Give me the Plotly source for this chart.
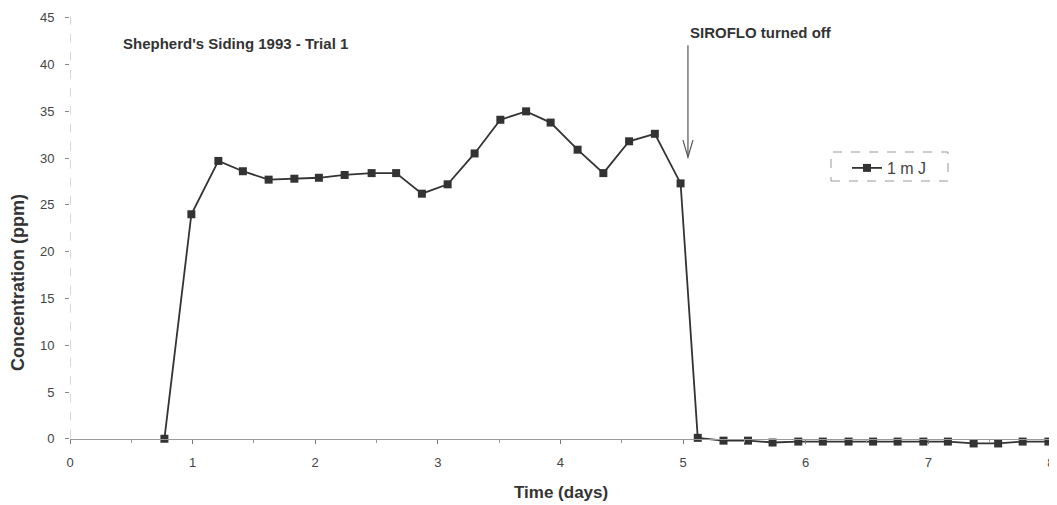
import plotly.graph_objects as go

time_days = [0.77, 0.99, 1.21, 1.41, 1.62, 1.83, 2.03, 2.24, 2.46, 2.66, 2.87, 3.08,
             3.30, 3.51, 3.72, 3.92, 4.14, 4.35, 4.56, 4.77, 4.98, 5.12, 5.33, 5.53,
             5.73, 5.94, 6.14, 6.35, 6.55, 6.75, 6.96, 7.16, 7.37, 7.57, 7.77, 7.98]
conc_ppm = [0.0, 24.0, 29.7, 28.6, 27.7, 27.8, 27.9, 28.2, 28.4, 28.4, 26.2, 27.2,
            30.5, 34.1, 35.0, 33.8, 30.9, 28.4, 31.8, 32.6, 27.3, 0.1, -0.2, -0.2,
            -0.4, -0.3, -0.3, -0.3, -0.3, -0.3, -0.3, -0.3, -0.5, -0.5, -0.3, -0.3]
series_name = "1 m J"
x_ticks = [0, 1, 2, 3, 4, 5, 6, 7, 8]
y_ticks = [0, 5, 10, 15, 20, 25, 30, 35, 40, 45]
y_min, y_max = -1.2, 45.3
off_time = 5.04
off_level = 30.1

ink = "#333333"
font_family = "Liberation Sans, Arial, sans-serif"

fig = go.Figure()
fig.add_trace(go.Scatter(
    x=time_days, y=conc_ppm, mode="lines+markers", name=series_name,
    line=dict(color=ink, width=1.8),
    marker=dict(symbol="square", size=8, color=ink),
    cliponaxis=False,
))

zero_pos = (0 - y_min) / (y_max - y_min)

def px(xp):
    return (xp - 70) / 987

def py(yp):
    return (450 - yp) / 435

# page body has an 8px margin, so the figure is sized/offset to compensate
fig.update_layout(
    width=1049, height=497,
    margin=dict(l=62, r=0, t=7, b=55, autoexpand=False),
    paper_bgcolor="white", plot_bgcolor="white",
    font=dict(family=font_family, size=13, color="#444444"),
    showlegend=True,
    legend=dict(x=px(847), y=py(151), xanchor="left", yanchor="top",
                bgcolor="rgba(0,0,0,0)", borderwidth=0,
                font=dict(size=16, color="#444444")),
    xaxis=dict(range=[0, 8.05], tickvals=x_ticks, showgrid=False, zeroline=False,
               showline=True, linecolor="#9a9a9a", linewidth=1,
               ticks="outside", ticklen=4, tickcolor="#777777",
               minor=dict(dtick=0.5, ticks="outside", ticklen=3, tickcolor="#999999"),
               anchor="free", position=zero_pos, ticklabelstandoff=8,
               automargin=False),
    yaxis=dict(range=[y_min, y_max], tickvals=y_ticks, showgrid=False, zeroline=False,
               showline=False, ticks="outside", ticklen=4, tickcolor="#888888",
               ticklabelstandoff=8, automargin=False),
)

# dashed-looking y axis line at x=0
fig.add_shape(type="line", xref="x", yref="paper", x0=0, x1=0, y0=zero_pos, y1=1,
              line=dict(color="#b0b0b0", width=1, dash="dash"))

# legend dashed box
fig.add_shape(type="rect", xref="paper", yref="paper",
              x0=px(831), x1=px(948), y0=py(181), y1=py(152),
              line=dict(color="#999999", width=1, dash="dash"))

# arrow: shaft and open V head, anchored at the data point of the switch-off
fig.add_shape(type="path", xref="x", yref="y", xsizemode="pixel", ysizemode="pixel",
              xanchor=off_time, yanchor=off_level,
              path="M 0,0 L 0,112", line=dict(color="#555555", width=1.2))
fig.add_shape(type="path", xref="x", yref="y", xsizemode="pixel", ysizemode="pixel",
              xanchor=off_time, yanchor=off_level,
              path="M -5,17 L 0,0 L 5,17", line=dict(color="#555555", width=1.2))

fig.add_annotation(text="<b>Shepherd's Siding 1993 - Trial 1</b>", xref="paper", yref="paper",
                   x=px(121), y=py(43), xanchor="left", yanchor="middle",
                   showarrow=False, font=dict(size=15, color=ink, family=font_family))

fig.add_annotation(text="<b>SIROFLO turned off</b>", xref="paper", yref="paper",
                   x=px(688), y=py(33), xanchor="left", yanchor="middle",
                   showarrow=False, font=dict(size=15, color=ink, family=font_family))

fig.add_annotation(text="<b>Time (days)</b>", xref="paper", yref="paper",
                   x=px(561), y=py(493), xanchor="center", yanchor="middle",
                   showarrow=False, font=dict(size=17, color=ink, family=font_family))

fig.add_annotation(text="<b>Concentration (ppm)</b>", xref="paper", yref="paper",
                   x=px(18), y=py(283), xanchor="center", yanchor="middle",
                   textangle=-90, showarrow=False,
                   font=dict(size=18, color=ink, family=font_family))

fig.write_html("out.html")
